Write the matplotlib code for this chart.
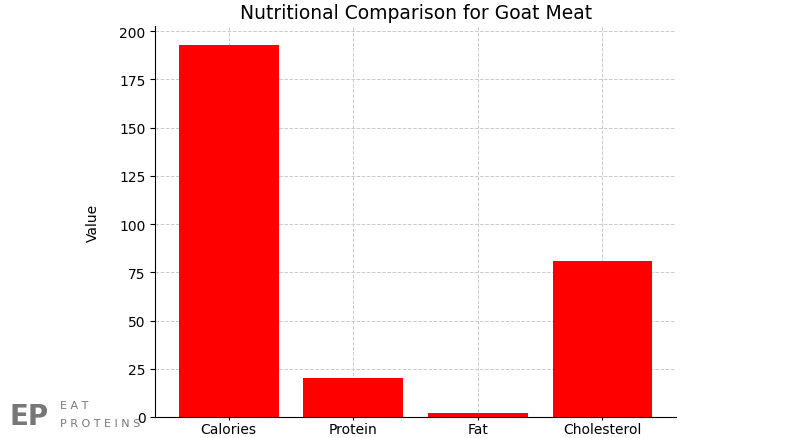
import matplotlib.pyplot as plt

categories = ['Calories', 'Protein', 'Fat', 'Cholesterol']
values = [193, 20, 2, 81]
yticks = [0, 25, 50, 75, 100, 125, 150, 175, 200]

fig = plt.figure(figsize=(8, 4.39), dpi=100)
ax = fig.add_axes([0.194, 0.048, 0.651, 0.89])

ax.bar(categories, values, color='red', width=0.8, zorder=2)
ax.set_ylim(0, 202.6)
ax.set_yticks(yticks)
ax.grid(True, linestyle='--', color='#cccccc', linewidth=0.7, zorder=0)
ax.spines['top'].set_visible(False)
ax.spines['right'].set_visible(False)
ax.tick_params(labelsize=10)
ax.tick_params(axis='x', pad=1.5, length=2)
ax.set_title('Nutritional Comparison for Goat Meat', fontsize=13.5)
ax.set_ylabel('Value', fontsize=10, labelpad=14)

# watermark
fig.text(0.012, 0.05, 'EP', fontsize=20, fontweight='bold', color='#777777', va='center')
fig.text(0.075, 0.075, 'E A T', fontsize=8, color='#777777', va='center')
fig.text(0.075, 0.035, 'P R O T E I N S', fontsize=8, color='#777777', va='center')

fig.savefig('out.png')
